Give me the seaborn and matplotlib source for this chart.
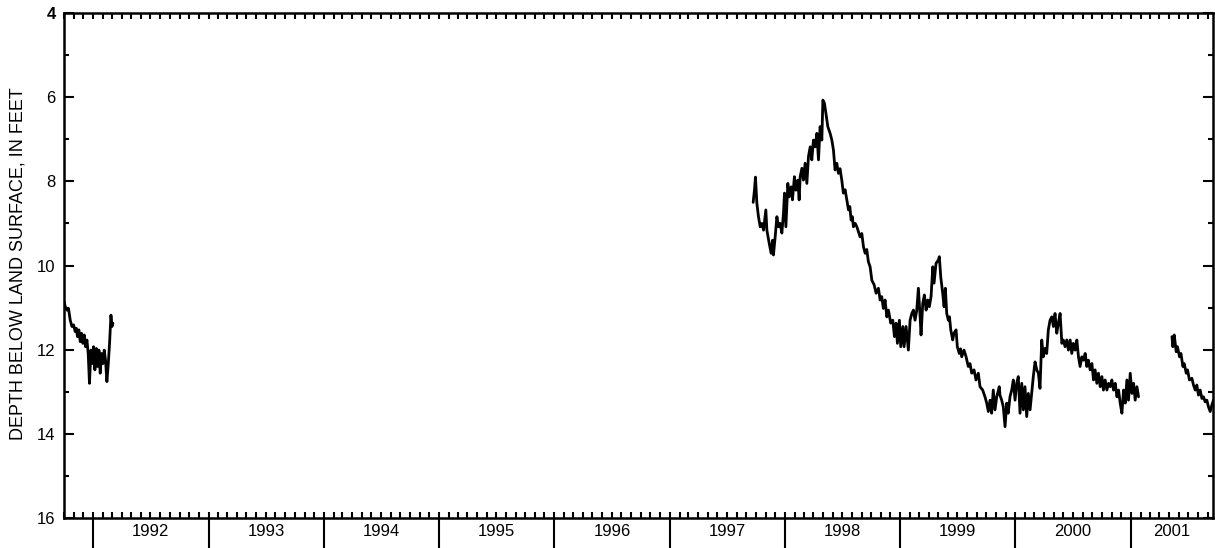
import numpy as np
import pandas as pd
import seaborn as sns
import matplotlib
matplotlib.use("Agg")
import matplotlib.pyplot as plt
import matplotlib.dates as mdates
from matplotlib.ticker import MultipleLocator

# water levels, time in decimal years, depth in feet below land surface
seg1_time = [1991.750, 1991.759, 1991.773, 1991.787, 1991.802, 1991.817, 1991.831, 1991.845,
             1991.854, 1991.865, 1991.877, 1991.889, 1991.900, 1991.912, 1991.923, 1991.935,
             1991.947, 1991.958, 1991.969, 1991.982, 1991.993, 1992.004, 1992.016, 1992.028,
             1992.039, 1992.051, 1992.062, 1992.074, 1992.086, 1992.097, 1992.108, 1992.120,
             1992.132, 1992.143, 1992.155, 1992.164, 1992.172]
seg1_depth = [10.86, 10.98, 11.06, 11.02, 11.30, 11.45, 11.41, 11.57,
              11.49, 11.69, 11.53, 11.81, 11.61, 11.85, 11.65, 11.93,
              11.77, 12.09, 12.80, 12.01, 12.33, 11.93, 12.48, 11.97,
              12.40, 12.01, 12.56, 12.09, 12.33, 12.01, 12.25, 12.76,
              12.33, 11.85, 11.18, 11.45, 11.37]

seg2_time = [1997.724, 1997.735, 1997.744, 1997.756, 1997.770, 1997.785, 1997.800, 1997.814,
             1997.834, 1997.843, 1997.863, 1997.880, 1997.892, 1997.900, 1997.915, 1997.930,
             1997.944, 1997.958, 1997.973, 1997.987, 1997.996, 1998.008, 1998.025, 1998.036,
             1998.054, 1998.065, 1998.082, 1998.095, 1998.112, 1998.123, 1998.132, 1998.147,
             1998.160, 1998.175, 1998.190, 1998.204, 1998.219, 1998.233, 1998.247, 1998.262,
             1998.277, 1998.291, 1998.305, 1998.320, 1998.329, 1998.343, 1998.355, 1998.372,
             1998.392, 1998.407, 1998.421, 1998.435, 1998.450, 1998.464, 1998.478, 1998.493,
             1998.507, 1998.522, 1998.537, 1998.551, 1998.563, 1998.574, 1998.585, 1998.594,
             1998.610, 1998.624, 1998.638, 1998.652, 1998.667, 1998.681, 1998.696, 1998.710,
             1998.724, 1998.739, 1998.754, 1998.774, 1998.791, 1998.811, 1998.826, 1998.840,
             1998.854, 1998.869, 1998.884, 1998.898, 1998.918, 1998.936, 1998.950, 1998.964,
             1998.976, 1998.993, 1999.005, 1999.023, 1999.034, 1999.051, 1999.071, 1999.086,
             1999.101, 1999.115, 1999.129, 1999.144, 1999.158, 1999.173, 1999.181, 1999.196,
             1999.210, 1999.225, 1999.239, 1999.253, 1999.268, 1999.283, 1999.294, 1999.311,
             1999.331, 1999.340, 1999.352, 1999.369, 1999.381, 1999.392, 1999.404, 1999.418,
             1999.428, 1999.439, 1999.456, 1999.467, 1999.485, 1999.496, 1999.513, 1999.524,
             1999.534, 1999.554, 1999.572, 1999.591, 1999.606, 1999.621, 1999.641, 1999.658,
             1999.678, 1999.693, 1999.716, 1999.736, 1999.751, 1999.765, 1999.780, 1999.794,
             1999.808, 1999.823, 1999.838, 1999.860, 1999.866, 1999.881, 1999.895, 1999.910,
             1999.925, 1999.938, 1999.953, 1999.968, 1999.982, 1999.997, 2000.011, 2000.025,
             2000.040, 2000.055, 2000.069, 2000.083, 2000.098, 2000.112, 2000.127, 2000.141,
             2000.155, 2000.170, 2000.185, 2000.199, 2000.213, 2000.228, 2000.242, 2000.257,
             2000.271, 2000.285, 2000.300, 2000.315, 2000.329, 2000.343, 2000.358, 2000.372,
             2000.387, 2000.402, 2000.415, 2000.430, 2000.445, 2000.459, 2000.474, 2000.488,
             2000.502, 2000.517, 2000.532, 2000.546, 2000.560, 2000.575, 2000.589, 2000.604,
             2000.618, 2000.632, 2000.647, 2000.662, 2000.676, 2000.690, 2000.705, 2000.719,
             2000.734, 2000.749, 2000.762, 2000.777, 2000.792, 2000.806, 2000.821, 2000.835,
             2000.849, 2000.864, 2000.879, 2000.893, 2000.907, 2000.922, 2000.936, 2000.951,
             2000.965, 2000.979, 2000.994, 2001.009, 2001.023, 2001.037, 2001.052, 2001.066]
seg2_depth = [8.50, 8.21, 7.90, 8.52, 8.84, 9.08, 9.00, 9.16,
              8.68, 9.16, 9.47, 9.71, 9.40, 9.75, 9.32, 8.84,
              9.08, 9.00, 9.23, 8.76, 8.28, 9.08, 8.05, 8.37,
              8.13, 8.44, 7.89, 8.21, 7.97, 8.44, 7.89, 7.69,
              7.97, 7.57, 8.05, 7.41, 7.18, 7.49, 7.02, 7.18,
              6.86, 7.49, 6.70, 7.02, 6.07, 6.15, 6.38, 6.70,
              6.86, 7.02, 7.26, 7.73, 7.57, 7.81, 7.70, 7.97,
              8.28, 8.20, 8.44, 8.68, 8.60, 8.92, 8.84, 9.08,
              9.00, 9.08, 9.20, 9.32, 9.24, 9.55, 9.71, 9.62,
              9.91, 10.03, 10.35, 10.46, 10.66, 10.54, 10.82, 10.74,
              11.02, 10.82, 11.22, 11.06, 11.37, 11.30, 11.69, 11.37,
              11.85, 11.30, 11.93, 11.45, 11.93, 11.45, 12.01, 11.30,
              11.14, 11.06, 11.30, 11.06, 10.54, 11.22, 11.65, 10.90,
              10.70, 11.06, 10.82, 10.98, 10.74, 10.03, 10.42, 9.95,
              9.87, 9.79, 10.27, 10.66, 10.98, 10.54, 11.14, 11.30,
              11.22, 11.53, 11.77, 11.61, 11.53, 11.93, 12.09, 11.98,
              12.17, 12.01, 12.17, 12.40, 12.33, 12.56, 12.48, 12.72,
              12.56, 12.88, 12.96, 13.12, 13.27, 13.47, 13.20, 13.51,
              12.96, 13.43, 13.12, 12.88, 13.08, 13.20, 13.36, 13.83,
              13.27, 13.51, 13.12, 12.96, 12.72, 13.20, 12.80, 12.64,
              13.51, 12.80, 13.43, 12.88, 13.59, 13.04, 13.43, 13.04,
              12.64, 12.29, 12.48, 12.56, 12.92, 11.77, 12.17, 11.97,
              12.09, 11.53, 11.30, 11.22, 11.45, 11.14, 11.61, 11.37,
              11.14, 11.85, 11.77, 11.93, 11.77, 12.01, 11.77, 12.09,
              11.85, 12.01, 11.77, 12.17, 12.40, 12.17, 12.25, 12.09,
              12.40, 12.25, 12.48, 12.33, 12.72, 12.48, 12.80, 12.56,
              12.88, 12.64, 12.96, 12.72, 12.96, 12.80, 12.88, 12.72,
              12.96, 12.80, 13.12, 12.96, 13.27, 13.51, 12.96, 13.27,
              12.72, 13.20, 12.56, 13.04, 12.80, 13.20, 12.88, 13.12]

seg3_time = [2001.356, 2001.364, 2001.376, 2001.393, 2001.404, 2001.422, 2001.434, 2001.451,
             2001.462, 2001.480, 2001.491, 2001.508, 2001.529, 2001.543, 2001.558, 2001.572,
             2001.586, 2001.601, 2001.616, 2001.630, 2001.644, 2001.659, 2001.673, 2001.688,
             2001.702, 2001.716]
seg3_depth = [11.69, 11.93, 11.65, 12.05, 11.93, 12.17, 12.09, 12.40,
              12.33, 12.56, 12.48, 12.72, 12.68, 12.84, 12.96, 12.84,
              13.08, 12.96, 13.16, 13.12, 13.24, 13.20, 13.36, 13.47,
              13.32, 13.20]

depth_ticks = [4, 6, 8, 10, 12, 14, 16]
year_labels = ['1992', '1993', '1994', '1995', '1996', '1997', '1998', '1999', '2000', '2001']
x_start = '1991-10-01'
x_end = '2001-09-18'


def to_date(t):
    y = int(t)
    start = pd.Timestamp(year=y, month=1, day=1)
    end = pd.Timestamp(year=y + 1, month=1, day=1)
    return start + (end - start) * (t - y)


frames = []
for i, (tt, dd) in enumerate([(seg1_time, seg1_depth), (seg2_time, seg2_depth), (seg3_time, seg3_depth)]):
    frames.append(pd.DataFrame({'date': [to_date(t) for t in tt], 'depth': dd, 'seg': i}))
df = pd.concat(frames, ignore_index=True)

sns.set_theme(style='ticks')
plt.rcParams['font.family'] = ['Liberation Sans', 'DejaVu Sans']
plt.rcParams['font.size'] = 12

fig = plt.figure(figsize=(12.15, 5.48), dpi=100)
ax = fig.add_axes([64 / 1215, 30 / 548, 1149 / 1215, 505 / 548])

sns.lineplot(data=df, x='date', y='depth', units='seg', estimator=None,
             color='black', linewidth=2.0, ax=ax, legend=False)

x0, x1 = pd.Timestamp(x_start), pd.Timestamp(x_end)
ax.set_xlim(x0, x1)
ax.set_ylim(16, 4)

for s in ax.spines.values():
    s.set_visible(True)
    s.set_linewidth(1.8)
    s.set_color('black')

# y axis
ax.set_yticks(depth_ticks)
ax.set_yticklabels([str(v) for v in depth_ticks])
ax.get_yticklabels()[0].set_fontweight('bold')
ax.yaxis.set_minor_locator(MultipleLocator(1))
ax.tick_params(axis='y', which='both', direction='in', left=True, right=True,
               width=1.5, color='black', labelsize=12, pad=6, labelcolor='black')
ax.tick_params(axis='y', which='major', length=7.5)
ax.tick_params(axis='y', which='minor', length=3.5)

# x axis: monthly ticks inside, year boundaries drawn out below
ax.xaxis.set_major_locator(mdates.YearLocator())
ax.xaxis.set_minor_locator(mdates.MonthLocator())
ax.xaxis.remove_overlapping_locs = False
ax.tick_params(axis='x', which='minor', direction='in', top=True, bottom=True,
               length=4.3, width=1.5, color='black')
ax.tick_params(axis='x', which='major', direction='out', top=False, bottom=True,
               length=21.6, width=1.5, color='black', labelbottom=False)

ax.set_xlabel('')
ax.set_ylabel('')

lo, hi = mdates.date2num(x0), mdates.date2num(x1)
for lab in year_labels:
    y = int(lab)
    a = max(mdates.date2num(pd.Timestamp(year=y, month=1, day=1)), lo)
    b = min(mdates.date2num(pd.Timestamp(year=y + 1, month=1, day=1)), hi)
    ax.text((a + b) / 2, -13 / 505, lab, transform=ax.get_xaxis_transform(),
            ha='center', va='center', fontsize=12, color='black')

fig.text(18 / 1215, 1 - 264 / 548, 'DEPTH BELOW LAND SURFACE, IN FEET',
         rotation=90, ha='center', va='center', fontsize=13, color='black')

fig.savefig('out.png', dpi=100)
